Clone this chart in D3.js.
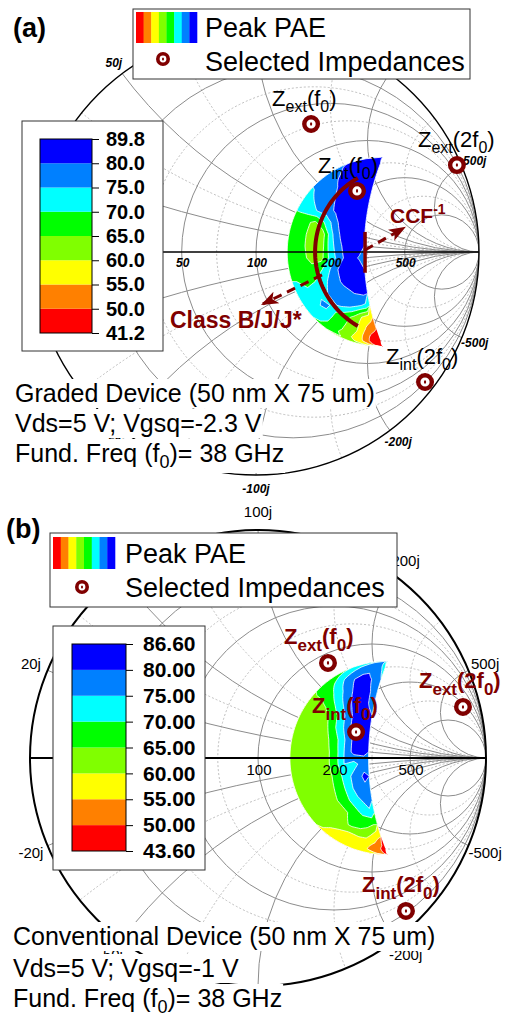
<!DOCTYPE html>
<html>
<head>
<meta charset="utf-8">
<script src="https://cdn.jsdelivr.net/npm/d3@7"></script>
<style>
  body { margin: 0; background: #fff; }
  svg { display: block; font-family: "Liberation Sans", Arial, sans-serif; }
</style>
</head>
<body>
<div id="chart"></div>
<script>
// ---- data ----
const Z0 = 100; // ohm
const realLabels = [20, 50, 100, 200, 500];
const imagLabels = [20, 50, 100, 200, 500];
const majorR = [0.2, 0.5, 1, 2, 5];
const minorR = [0.35, 0.7, 1.5, 3];
const majorX = [0.2, 0.5, 1, 2, 5];
const minorX = [0.35, 0.7, 1.5, 3];

const bandColors = ["#ff0000", "#ff8000", "#ffff00", "#80ff00", "#00ff00", "#00ffff", "#0080ff", "#0000ff"];
const thresholdsA = [41.2, 50, 55, 60, 65, 70, 75, 80];
const thresholdsB = [43.6, 50, 55, 60, 65, 70, 75, 80];
const tickLabelsA = ["89.8", "80.0", "75.0", "70.0", "65.0", "60.0", "55.0", "50.0", "41.2"];
const tickLabelsB = ["86.60", "80.00", "75.00", "70.00", "65.00", "60.00", "55.00", "50.00", "43.60"];

// measured load-pull region: between two circles of the reflection plane [centre (real), radius]
const regionInner = [0.565, 0.425];
const regionOuter = [1.6, 1.115];
const gridCols = 8, gridRows = 16; // columns across the region, rows from top tip to bottom tip

// Peak PAE (%) sampled across the region
const paeA = [
  [81, 83, 85, 86, 86, 86, 86, 85],
  [77, 78, 81, 85, 86, 87, 86, 85],
  [76, 77, 78, 80.5, 85, 87, 87, 86],
  [72, 76, 77, 79, 82, 86, 87, 86],
  [70.5, 72, 76, 78, 81, 85, 87, 86],
  [67, 66, 64, 70, 77, 83, 86, 85],
  [70, 66, 63, 62, 74, 81, 86, 85],
  [68, 66, 63, 62, 73, 79, 85, 84],
  [67, 66, 64, 63, 72, 78, 84, 79],
  [67, 66, 66, 70, 76, 82, 85, 84],
  [70, 67, 70, 74, 77, 81, 84, 84],
  [72, 73, 73, 75, 77, 78, 80, 81],
  [72, 73, 77, 74, 76, 77, 76, 74],
  [71, 72, 70, 67, 66, 64, 60, 57],
  [68, 66, 65, 64, 62, 58, 54, 52],
  [63, 60, 57, 55, 52, 49, 46, 43]
];
const paeB = [
  [73, 74, 76, 77, 77, 77, 77, 74],
  [67, 72, 76, 79, 82, 83, 80, 78],
  [66, 67, 71, 75, 79, 83, 83, 78],
  [63, 64, 66, 71, 76, 81, 84, 79],
  [62, 62, 63, 66, 72, 78, 84, 82],
  [62, 62, 62, 65, 71, 77, 84, 83],
  [62, 62, 62, 63.5, 68, 75, 82, 83],
  [62, 62, 62, 63, 67, 75, 82, 81],
  [62, 62, 62, 63, 67, 75, 73, 78],
  [62, 62, 62, 63, 66, 72, 77, 81],
  [62, 62, 62, 63, 66, 71, 77, 79],
  [62, 62, 62, 63, 66, 70, 74, 77],
  [62, 62, 62, 62.5, 64, 67, 71, 74],
  [61, 61, 62, 63, 66, 67, 67, 65],
  [57, 57, 57, 58, 60, 61, 59, 56],
  [56, 56, 55, 55, 54, 52, 51, 48]
];

// selected impedances as reflection coefficients [re, im]
const impedanceNames = [["ext", "f"], ["ext", "2f"], ["int", "f"], ["int", "2f"]];
const selectedA = [[0.247, 0.574], [0.901, 0.390], [0.453, 0.274], [0.758, -0.583]];
const selectedB = [[0.307, 0.417], [0.899, 0.224], [0.430, 0.114], [0.649, -0.671]];

// class B/J/J* continuum arc [centre re, radius, start deg, end deg], CCF marker and arrows (gamma plane)
const continuumArc = [0.648, 0.383, 120, 240];
const ccfBar = [0.489, -0.093, 0.09];
const arrowCCF = [[0.489, 0.009], [0.664, 0.108]];
const arrowClass = [[0.296, -0.103], [0.031, -0.233]];

const darkRed = "#800000";

// ---- drawing ----
const svg = d3.select("#chart").append("svg").attr("width", 512).attr("height", 1017);
const defs = svg.append("defs");
defs.append("marker")
    .attr("id", "arrowHead")
    .attr("markerUnits", "userSpaceOnUse")
    .attr("viewBox", "0 0 16 12")
    .attr("markerWidth", 17).attr("markerHeight", 13)
    .attr("refX", 14).attr("refY", 6)
    .attr("orient", "auto")
  .append("path")
    .attr("d", "M0,0 L16,6 L0,12 L4,6 Z")
    .attr("fill", darkRed);

const c1 = regionInner[0], r1 = regionInner[1], c2 = regionOuter[0], r2 = regionOuter[1];
const tipX = (r1 * r1 - r2 * r2 + c2 * c2 - c1 * c1) / (2 * (c2 - c1));
const tipY = Math.sqrt(r1 * r1 - (tipX - c1) * (tipX - c1));

function regionGamma(u, t) {
    const gy = tipY * (1 - 2 * t);
    const xl = c1 - Math.sqrt(Math.max(0, r1 * r1 - gy * gy));
    const xr = c2 - Math.sqrt(Math.max(0, r2 * r2 - gy * gy));
    return [xl + u * (xr - xl), gy];
}

function addText(g, x, y, parts, opt) {
    // parts: [string, "sub"|"sup"|null]
    const t = g.append("text")
        .attr("x", x).attr("y", y)
        .attr("font-size", opt.size)
        .attr("font-weight", opt.weight || "normal")
        .attr("fill", opt.color || "#000");
    let shift = 0;
    parts.forEach(p => {
        const target = p[1] === "sub" ? opt.subShift : p[1] === "sup" ? -opt.supShift : 0;
        t.append("tspan")
            .attr("dy", target - shift)
            .attr("font-size", p[1] ? opt.subSize : opt.size)
            .text(p[0]);
        shift = target;
    });
    return t;
}

function drawPanel(cfg) {
    const g = svg.append("g");
    const R = cfg.R;
    const x = d3.scaleLinear().domain([-1, 1]).range([cfg.cx - R, cfg.cx + R]);
    const y = d3.scaleLinear().domain([-1, 1]).range([cfg.cy + R, cfg.cy - R]);

    defs.append("clipPath").attr("id", "clip" + cfg.id)
      .append("circle").attr("cx", x(0)).attr("cy", y(0)).attr("r", R);

    const grid = g.append("g").attr("clip-path", `url(#clip${cfg.id})`).attr("fill", "none");
    const drawFamily = (rs, xs, stroke, dash) => {
        rs.forEach(r => grid.append("circle")
            .attr("cx", x(r / (1 + r))).attr("cy", y(0)).attr("r", R / (1 + r))
            .attr("stroke", stroke).attr("stroke-width", 1).attr("stroke-dasharray", dash));
        xs.forEach(v => [v, -v].forEach(s => grid.append("circle")
            .attr("cx", x(1)).attr("cy", y(1 / s)).attr("r", R / v)
            .attr("stroke", stroke).attr("stroke-width", 1).attr("stroke-dasharray", dash)));
    };
    drawFamily(minorR, minorX, "#bdbdbd", "2,2");
    drawFamily(majorR, majorX, "#8c8c8c", null);

    g.append("circle").attr("cx", x(0)).attr("cy", y(0)).attr("r", R)
        .attr("fill", "none").attr("stroke", "#000").attr("stroke-width", cfg.outerWidth);

    // reactance labels
    const sf = cfg.scaleFont;
    imagLabels.forEach(v => [1, -1].forEach(sign => {
        const xv = sign * v / Z0;
        const gx = (xv * xv - 1) / (xv * xv + 1), gy = 2 * xv / (xv * xv + 1);
        g.append("text")
            .attr("x", x(gx) + gx * cfg.labelOffset)
            .attr("y", y(gy) - gy * cfg.labelOffset)
            .attr("dy", "0.35em")
            .attr("text-anchor", "middle")
            .attr("font-size", sf.size).attr("font-weight", sf.weight).attr("font-style", sf.style)
            .text((sign < 0 ? "-" : "") + v + "j");
    }));

    // PAE contours
    const values = cfg.values.flat();
    const contours = d3.contours().size([gridCols, gridRows]).thresholds(cfg.thresholds)(values);
    const toPx = p => {
        const gm = regionGamma(p[0] / gridCols, p[1] / gridRows);
        return [x(gm[0]), y(gm[1])];
    };
    const ringPath = ring => {
        const pts = [];
        for (let i = 0; i < ring.length - 1; i++) {
            const a = ring[i], b = ring[i + 1];
            for (let k = 0; k < 4; k++) {
                pts.push(toPx([a[0] + (b[0] - a[0]) * k / 4, a[1] + (b[1] - a[1]) * k / 4]));
            }
        }
        return "M" + pts.map(p => p[0].toFixed(2) + "," + p[1].toFixed(2)).join("L") + "Z";
    };
    g.append("g").selectAll("path")
        .data(contours)
        .join("path")
        .attr("d", c => c.coordinates.map(poly => poly.map(ringPath).join("")).join(""))
        .attr("fill-rule", "evenodd")
        .attr("fill", (c, i) => bandColors[i])
        .attr("stroke", (c, i) => i === 0 ? "none" : "#fff")
        .attr("stroke-width", 0.8);

    // real axis on top
    g.append("line")
        .attr("x1", x(-1)).attr("x2", x(1)).attr("y1", y(0)).attr("y2", y(0))
        .attr("stroke", "#000").attr("stroke-width", cfg.axisWidth);
    realLabels.forEach(v => {
        const r = v / Z0;
        g.append("text")
            .attr("x", x((r - 1) / (r + 1)) + 1).attr("y", y(0) + cfg.realDy)
            .attr("text-anchor", "middle")
            .attr("font-size", sf.size).attr("font-weight", sf.weight).attr("font-style", sf.style)
            .text(v);
    });

    if (cfg.annotate) {
        const a = continuumArc;
        const arcPts = d3.range(a[2], a[3] + 0.5, 2).map(deg => {
            const th = deg * Math.PI / 180;
            return [x(a[0] + a[1] * Math.cos(th)), y(a[1] * Math.sin(th))];
        });
        g.append("path").attr("d", d3.line()(arcPts))
            .attr("fill", "none").attr("stroke", darkRed).attr("stroke-width", 4);
        g.append("line")
            .attr("x1", x(ccfBar[0])).attr("x2", x(ccfBar[0]))
            .attr("y1", y(ccfBar[2])).attr("y2", y(ccfBar[1]))
            .attr("stroke", darkRed).attr("stroke-width", 3.5);
        [arrowCCF, arrowClass].forEach(ar => g.append("line")
            .attr("x1", x(ar[0][0])).attr("y1", y(ar[0][1]))
            .attr("x2", x(ar[1][0])).attr("y2", y(ar[1][1]))
            .attr("stroke", darkRed).attr("stroke-width", 3)
            .attr("stroke-dasharray", "9,6")
            .attr("marker-end", "url(#arrowHead)"));
        addText(g, 390, 223, [["CCF", null], ["-1", "sup"]],
            { size: 21, subSize: 14, supShift: 9, weight: "bold", color: darkRed });
        addText(g, 170, 328, [["Class B/J/J*", null]],
            { size: 23, weight: "bold", color: darkRed });
    }

    // selected impedances
    const zs = cfg.zStyle;
    cfg.markers.forEach((m, i) => {
        const px = x(m[0]), py = y(m[1]);
        g.append("circle").attr("cx", px).attr("cy", py).attr("r", 6.8)
            .attr("fill", "#fff").attr("stroke", darkRed).attr("stroke-width", 4.4);
        g.append("ellipse").attr("cx", px).attr("cy", py).attr("rx", 1.1).attr("ry", 1.8).attr("fill", darkRed);
        const nm = impedanceNames[i];
        addText(g, px + zs.dx, py + zs.dy,
            [["Z", null], [nm[0], "sub"], ["(" + nm[1], null], ["0", "sub"], [")", null]],
            { size: zs.size, subSize: zs.subSize, subShift: zs.subShift, weight: zs.weight, color: zs.color });
    });

    // legend
    const lg = cfg.legend;
    g.append("rect").attr("x", lg.box[0]).attr("y", lg.box[1]).attr("width", lg.box[2]).attr("height", lg.box[3])
        .attr("fill", "#fff").attr("stroke", "#333").attr("stroke-width", 1);
    const sw = d3.scaleBand().domain(d3.range(bandColors.length)).range([lg.swatch[0], lg.swatch[0] + lg.swatch[2]]);
    g.selectAll(null).data(bandColors).join("rect")
        .attr("x", (d, i) => sw(i)).attr("y", lg.swatch[1])
        .attr("width", sw.bandwidth() + 0.3).attr("height", lg.swatch[3])
        .attr("fill", d => d);
    g.append("text").attr("x", lg.textX).attr("y", lg.base1).attr("font-size", 27).text("Peak PAE");
    g.append("text").attr("x", lg.textX).attr("y", lg.base2).attr("font-size", 27).text("Selected Impedances");
    g.append("circle").attr("cx", lg.marker[0]).attr("cy", lg.marker[1]).attr("r", 5.2)
        .attr("fill", "#fff").attr("stroke", darkRed).attr("stroke-width", 3.6);
    g.append("ellipse").attr("cx", lg.marker[0]).attr("cy", lg.marker[1]).attr("rx", 1).attr("ry", 1.5).attr("fill", darkRed);

    // colour bar
    const cb = cfg.colorbar;
    g.append("rect").attr("x", cb.box[0]).attr("y", cb.box[1]).attr("width", cb.box[2]).attr("height", cb.box[3])
        .attr("fill", "#fff").attr("stroke", "#333").attr("stroke-width", 1);
    const barTop = cb.bar[1], barBottom = cb.bar[1] + cb.bar[3];
    const by = d3.scaleLinear().domain([0, bandColors.length]).range([barBottom, barTop]);
    g.selectAll(null).data(bandColors).join("rect")
        .attr("x", cb.bar[0]).attr("y", (d, i) => by(i + 1))
        .attr("width", cb.bar[2]).attr("height", (d, i) => by(i) - by(i + 1))
        .attr("fill", d => d);
    g.append("rect").attr("x", cb.bar[0]).attr("y", barTop).attr("width", cb.bar[2]).attr("height", cb.bar[3])
        .attr("fill", "none").attr("stroke", "#000").attr("stroke-width", 1);
    const tickScale = d3.scalePoint().domain(cfg.ticks).range([barTop, barBottom]);
    const ax = g.append("g")
        .attr("transform", `translate(${cb.bar[0] + cb.bar[2]},0)`)
        .call(d3.axisRight(tickScale).tickSize(7).tickSizeOuter(0).tickPadding(cb.pad));
    ax.select(".domain").remove();
    ax.selectAll("line").attr("stroke", "#000");
    ax.selectAll("text").attr("font-size", cb.font).attr("font-weight", "bold")
        .attr("font-family", "'Liberation Sans', Arial, sans-serif").attr("fill", "#000");

    // device notes with white backing
    cfg.notes.forEach((parts, i) => {
        const t = addText(g, cfg.noteX, cfg.noteY[i], parts, { size: 25, subSize: 18, subShift: 6 });
        const bb = t.node().getBBox();
        g.insert("rect", () => t.node())
            .attr("x", bb.x - 1).attr("y", bb.y).attr("width", bb.width + 2).attr("height", bb.height + 1)
            .attr("fill", "#fff");
    });

    g.append("text").attr("x", cfg.tag[0]).attr("y", cfg.tag[1])
        .attr("font-size", 27).attr("font-weight", "bold").text(cfg.tag[2]);
}

drawPanel({
    id: "a", cx: 256, cy: 252, R: 223,
    values: paeA, thresholds: thresholdsA, ticks: tickLabelsA, markers: selectedA,
    scaleFont: { size: 12, weight: "bold", style: "italic" },
    labelOffset: 14, realDy: 15, outerWidth: 1.4, axisWidth: 1.3,
    annotate: true,
    zStyle: { dx: -39, dy: -18, size: 22, subSize: 16, subShift: 6, weight: "normal", color: "#000" },
    legend: { box: [133, 9, 337, 70], swatch: [136, 12, 61, 31], textX: 205, base1: 37, base2: 71, marker: [163, 59] },
    colorbar: { box: [22, 121, 141, 230], bar: [40, 139, 52, 194], font: 20, pad: 7 },
    noteX: 15, noteY: [402, 432, 462],
    notes: [
        [["Graded Device (50 nm X 75 um)", null]],
        [["Vds=5 V; Vgsq=-2.3 V", null]],
        [["Fund. Freq (f", null], ["0", "sub"], [")= 38 GHz", null]]
    ],
    tag: [13, 37, "(a)"]
});

drawPanel({
    id: "b", cx: 258, cy: 758, R: 228,
    values: paeB, thresholds: thresholdsB, ticks: tickLabelsB, markers: selectedB,
    scaleFont: { size: 15, weight: "normal", style: "normal" },
    labelOffset: 18, realDy: 17, outerWidth: 2, axisWidth: 2,
    annotate: false,
    zStyle: { dx: -44, dy: -19, size: 22, subSize: 17, subShift: 7, weight: "bold", color: darkRed },
    legend: { box: [50, 533, 347, 74], swatch: [53, 537, 62, 32], textX: 125, base1: 563, base2: 597, marker: [82, 587] },
    colorbar: { box: [53, 626, 152, 244], bar: [72, 644, 54, 207], font: 21, pad: 10 },
    noteX: 13, noteY: [945, 977, 1007],
    notes: [
        [["Conventional Device (50 nm X 75 um)", null]],
        [["Vds=5 V; Vgsq=-1 V", null]],
        [["Fund. Freq (f", null], ["0", "sub"], [")= 38 GHz", null]]
    ],
    tag: [6, 538, "(b)"]
});
</script>
</body>
</html>
